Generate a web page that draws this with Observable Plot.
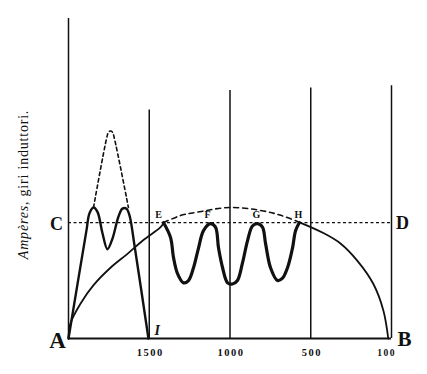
<!DOCTYPE html>
<html><head><meta charset="utf-8">
<script src="https://cdn.jsdelivr.net/npm/d3@7"></script>
<script src="https://cdn.jsdelivr.net/npm/@observablehq/plot@0.6"></script>
<style>body{margin:0;background:#fff}</style>
</head><body><div id="chart"></div>
<script>
// x = giri (rpm), reversed; y = ampères-giri (C level = 100)
const tickValues = [1500, 1000, 500, 0];
const tickLabels = ["1500", "1000", "500", "100"];
const gridX = [2000, 1500, 1000, 500, 0];
const gridTop = [276, 197, 214, 216, 218];
const levelCD = 100;

const arcLeft = [[2000,0],[1988,13],[1926,30],[1845,46],[1740,61],[1635,73],[1536,85],[1430,96],[1410,100]];
const arcDashed = [[1410,100],[1307,106],[1201,109],[997,113],[793,110],[680,106],[566,100]];
const arcRight = [[566,100],[422,91],[316,82],[211,67],[112,47],[50,24],[20,0]];

const doublePeak = [[2000,0],[1889,93],[1870,108],[1845,113],[1820,109],[1790,91],[1759,77],[1728,86],[1691,105],[1666,112],[1641,112],[1622,106],[1591,80],[1505,0]];
const singlePeakDashed = [[1845,113],[1765,172],[1752,178],[1740,179],[1728,178],[1715,172],[1629,113]];

const wave = [[1412,100],[1368,87],[1350,70],[1325,56],[1288,48],[1257,50],[1226,61],[1195,78],[1164,93],[1121,99],[1090,96],[1071,78],[1046,61],[1015,48],[985,47],[954,50],[923,65],[892,84],[861,97],[830,99],[799,96],[780,82],[749,61],[706,50],[675,52],[644,61],[613,78],[594,93],[570,100]];

const peakNames = ["E", "F", "G", "H"];
const peakLabelX = [1443, 1139, 836, 576];
const yLabel = "Ampères, giri induttori.";

const px = d => d[0], py = d => d[1];
const serif = "Liberation Serif, Times New Roman, serif";

const chart = Plot.plot({
  width: 427, height: 374,
  marginLeft: 68, marginRight: 36, marginTop: 18, marginBottom: 36,
  x: {domain: [2000, 0], axis: null},
  y: {domain: [0, 276], axis: null},
  style: {fontFamily: serif, background: "#fff", color: "#111"},
  marks: [
    Plot.ruleX(gridX.map((x, i) => ({x, top: gridTop[i]})), {x: "x", y1: 0, y2: "top", stroke: "#111", strokeWidth: 1.5}),
    Plot.ruleY([0], {x1: 2000, x2: 0, stroke: "#111", strokeWidth: 2}),
    Plot.ruleY([levelCD], {x1: 2000, x2: 0, stroke: "#111", strokeWidth: 1.3, strokeDasharray: "3,2.5"}),
    Plot.line(arcLeft, {x: px, y: py, curve: "catmull-rom", stroke: "#111", strokeWidth: 1.8}),
    Plot.line(arcDashed, {x: px, y: py, curve: "catmull-rom", stroke: "#111", strokeWidth: 1.6, strokeDasharray: "5,4"}),
    Plot.line(arcRight, {x: px, y: py, curve: "catmull-rom", stroke: "#111", strokeWidth: 1.8}),
    Plot.line(singlePeakDashed, {x: px, y: py, curve: "catmull-rom", stroke: "#111", strokeWidth: 1.6, strokeDasharray: "3.5,3"}),
    Plot.line(doublePeak, {x: px, y: py, curve: "catmull-rom", stroke: "#111", strokeWidth: 2.4}),
    Plot.line(wave, {x: px, y: py, curve: "catmull-rom", stroke: "#111", strokeWidth: 3.2}),
    // axis tick labels
    Plot.text(tickValues.slice(0, 3), {x: d => d, y: 0, text: (d, i) => tickLabels[i], dy: 14, dx: 1, fontSize: 10.5, fontWeight: "bold", fill: "#111"}),
    Plot.text(tickValues.slice(3), {x: d => d, y: 0, text: (d, i) => tickLabels[3 + i], dy: 14, dx: -5, fontSize: 9.5, fontWeight: "bold", fill: "#111"}),
    // corner labels
    Plot.text(["A"], {x: 2000, y: 0, text: d => d, dx: -11, dy: 2, fontSize: 23, fontWeight: "bold", fill: "#111"}),
    Plot.text(["B"], {x: 0, y: 0, text: d => d, dx: 13, dy: 1, fontSize: 21, fontWeight: "bold", fill: "#111"}),
    Plot.text(["C"], {x: 2000, y: levelCD, text: d => d, dx: -12, dy: 2, fontSize: 18, fontWeight: "bold", fill: "#111"}),
    Plot.text(["D"], {x: 0, y: levelCD, text: d => d, dx: 11, dy: 1, fontSize: 18, fontWeight: "bold", fill: "#111"}),
    Plot.text(["I"], {x: 1500, y: 0, text: d => d, dx: 8, dy: -8, fontSize: 14, fontWeight: "bold", fontStyle: "italic", fill: "#111"}),
    Plot.text(peakNames, {x: (d, i) => peakLabelX[i], y: levelCD, text: d => d, dy: -8, fontSize: 10, fontWeight: "bold", fill: "#111"}),
    // rotated y label
    Plot.text([yLabel], {frameAnchor: "left", textAnchor: "middle", text: d => d, rotate: -90, dx: -45, dy: 6, fontSize: 14, fill: "#111"})
  ]
});

const svg = d3.select(chart);
svg.selectAll("text").filter(function() { return tickLabels.includes(this.textContent); })
  .style("letter-spacing", "1.5px");
svg.selectAll("text").filter(function() { return this.textContent === yLabel; })
  .each(function() {
    const t = d3.select(this);
    t.text(null).style("letter-spacing", "0.8px");
    t.append("tspan").attr("font-style", "italic").text("Ampères,");
    t.append("tspan").text(" giri induttori.");
  });
document.getElementById("chart").appendChild(chart);
</script>
</body></html>
